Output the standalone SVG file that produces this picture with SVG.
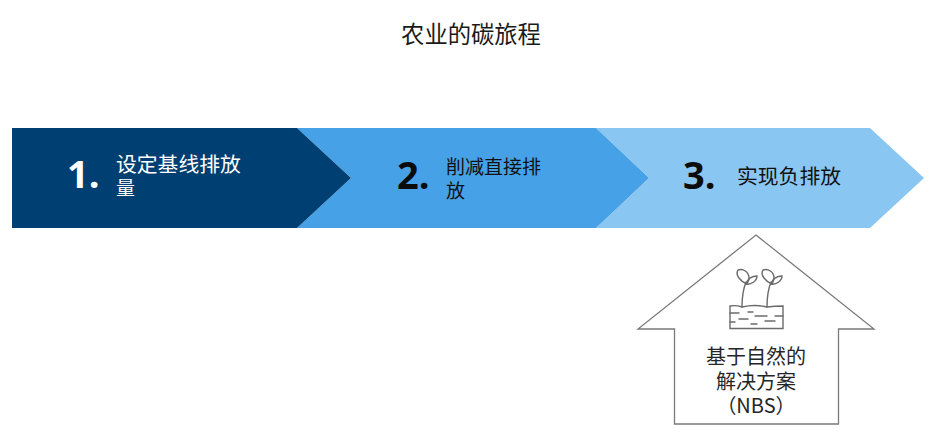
<svg xmlns="http://www.w3.org/2000/svg" width="934" height="439" viewBox="0 0 934 439">
<style>
text{font-family:"Noto Sans CJK SC","Noto Sans",sans-serif;}
.n{font-family:"Open Sans","Noto Sans",sans-serif;font-weight:700;font-size:38px;}
.h{font-size:20px;fill:#262626;text-anchor:middle;}
.i{fill:none;stroke:#6b6b6b;stroke-width:1.4;stroke-linecap:round;}
</style>
<rect width="934" height="439" fill="#fff"/>
<text id="title" x="471" y="43" font-size="23.300" fill="#1a1a1a" text-anchor="middle">农业的碳旅程</text>
<g id="connectors"/>
<g id="step3">
<path d="M596 128H870L924 178L870 228H596L649 178Z" fill="#8ac6f2"/>
<text class="n" x="683" y="189" fill="#0c0c0c">3.</text>
<text x="737" y="184" font-size="20.800" fill="#111">实现负排放</text>
</g>
<g id="step2">
<path d="M297 128H596L649 178L596 228H297L351 178Z" fill="#46a1e6"/>
<text class="n" x="397" y="189" fill="#0c0c0c">2.</text>
<text x="446" y="174" font-size="19" fill="#111">削减直接排</text>
<text x="446" y="198" font-size="19" fill="#111">放</text>
</g>
<g id="step1">
<path d="M12 128H297L351 178L297 228H12Z" fill="#003f72"/>
<text class="n" x="67" y="188" fill="#fff">1.</text>
<text x="116" y="172" font-size="20.800" fill="#fff">设定基线排放</text>
<text x="116" y="195" font-size="19" fill="#fff">量</text>
</g>
<g id="nbs">
<path d="M756 235L874 329H838.500V424H674.500V329H638Z" fill="#fff" stroke="#7a7a7a" stroke-width="1.300"/>
<g id="plant-icon" class="i">
<path d="M730 306Q736 305 742 307Q755 304 767 307Q775 306 783 306V328.500H730Z"/>
<path d="M742 307Q742 292 746 282M767 307Q767 292 771 282"/>
<path d="M747 284C740 281 735 275 738 270C743 268 749 272 749 278C749 280 748 282 747 284Z"/>
<path d="M746 284C747 279 752 276 757 276C757 281 751 285 746 284Z"/>
<path d="M772 284C765 281 760 275 763 270C768 268 774 272 774 278C774 280 773 282 772 284Z"/>
<path d="M771 284C772 279 777 276 782 276C782 281 776 285 771 284Z"/>
<path d="M730 313H739M748 312H753M755 316H767M775 316H783M739 319H748M730 322H735M765 321H775M751 324H757"/>
</g>
<text class="h" x="756" y="364" font-size="20.200">基于自然的</text>
<text class="h" x="756" y="389">解决方案</text>
<text class="h" x="756" y="413">（NBS）</text>
</g>
</svg>
